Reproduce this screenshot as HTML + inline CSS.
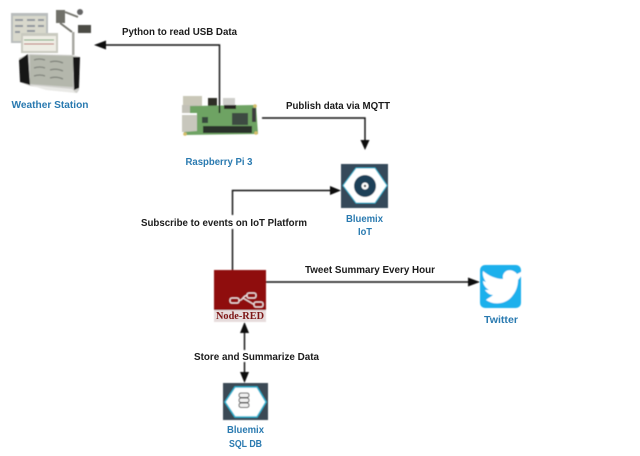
<!DOCTYPE html>
<html><head><meta charset="utf-8"><style>
html,body{margin:0;padding:0;background:#fff;width:640px;height:456px;overflow:hidden}
svg{display:block}
text{font-family:"Liberation Sans",sans-serif;font-weight:bold;font-size:10.5px}
.k{fill:#1a1a1a}.b{fill:#2a7ab0;text-anchor:middle}
.l{stroke:#111;stroke-width:1.4;fill:none}
</style></head><body>
<svg width="640" height="456" viewBox="0 0 640 456" xmlns="http://www.w3.org/2000/svg">
<defs>
<filter id="s" x="-5%" y="-5%" width="110%" height="110%"><feGaussianBlur stdDeviation="0.45"/></filter>
<filter id="t" x="-5%" y="-5%" width="110%" height="110%"><feGaussianBlur stdDeviation="0.25"/></filter>
</defs>
<rect width="640" height="456" fill="#fff"/>
<g filter="url(#s)">
<!-- weather station -->
<rect x="11" y="13" width="37" height="30" fill="#b9bdbd"/>
<rect x="13" y="16" width="33" height="25" fill="#d8d8cc"/>
<path d="M15 20h8M27 20h8M38 20h6M15 26h8M27 26h8M38 26h6M15 32h5M27 31h8" stroke="#8f959d" stroke-width="2"/>
<rect x="21" y="33" width="37" height="20" fill="#c9cac0"/>
<rect x="23" y="36" width="33" height="15" fill="#eeede4"/>
<path d="M24 40h30" stroke="#6da36d" stroke-width="1"/><path d="M24 44h30" stroke="#b96a6a" stroke-width="1"/>
<rect x="72" y="32" width="2.500" height="23" fill="#a9a9a3"/>
<rect x="56" y="10" width="9" height="13" fill="#6f6f69"/>
<path d="M65 12 L78 17 M60 23 L72 32" stroke="#77776f" stroke-width="2"/>
<circle cx="80" cy="12" r="3" fill="#666"/>
<rect x="78" y="25" width="13" height="8" fill="#4b4b45"/>
<path d="M19 58 L30 54 L72 55 L80 57 L79 90 L77 93 L30 86 L20 82 Z" fill="#cfcfcb"/>
<path d="M19 60 L28 54 L30 85 L20 82 Z" fill="#161616"/>
<path d="M73 57 L80 57 L79 88 L74 90 Z" fill="#161616"/>
<path d="M30 55 L73 56 L73 87 L30 84 Z" fill="#b4b7ac"/>
<path d="M34 60q5-2 11 0M50 62q6-2 13 1M34 68q6-2 11 0M50 70q6-2 13 1M34 76q6-2 11 0M50 78q6-2 13 1" fill="none" stroke="#81847d" stroke-width="1.300"/>
<path d="M30 85 L72 89 L76 93 L46 90 Z" fill="#e9e9e6"/>
<!-- raspberry pi -->
<rect x="183" y="96" width="19" height="10" fill="#c9c7b8"/>
<rect x="182" y="105" width="15" height="8" fill="#c2c1b7"/>
<rect x="182" y="115" width="15" height="17" fill="#c8c7bd"/>
<rect x="223" y="98" width="12" height="7" fill="#cfcfcb"/>
<rect x="208" y="98" width="9" height="9" fill="#2e2e28"/>
<path d="M190 106 L256 105 L258 134 L184 135 L184 132 L197 131 L197 113 L190 113 Z" fill="#6ea364"/>
<rect x="232" y="113" width="16" height="12" fill="#3d4c42"/>
<rect x="224" y="105" width="12" height="4" fill="#262622"/>
<rect x="202" y="117" width="6" height="6" fill="#39493d"/>
<rect x="203" y="126" width="49" height="7" fill="#2a302a"/>
<rect x="252" y="108" width="4" height="14" fill="#3d3d3d"/>
<circle cx="185" cy="134" r="1.800" fill="#d4bd6a"/><circle cx="256" cy="133" r="1.800" fill="#d4bd6a"/><circle cx="255" cy="106" r="1.800" fill="#d4bd6a"/>
<!-- iot -->
<rect x="341" y="164" width="47" height="44" fill="#34495a"/>
<path d="M343 185.500 L356 168 L375 168 L387 185.500 L375 203 L356 203 Z" fill="#fff" stroke="#25b4d2" stroke-width="1"/>
<circle cx="365" cy="186" r="11" fill="#1f4058"/>
<circle cx="365" cy="186" r="3.500" fill="#fff"/><circle cx="365" cy="186" r="1.200" fill="#333"/>
<!-- node red -->
<rect x="214" y="270" width="52" height="52" fill="#e6dcdc"/>
<rect x="214" y="270" width="52" height="40" fill="#8f0d0d"/>
<g fill="none" stroke="#f2e4e4" stroke-width="1.200">
<rect x="230" y="298" width="9" height="5" rx="2"/><rect x="247" y="293" width="9" height="5" rx="2"/><rect x="254" y="302" width="9" height="5" rx="2"/>
<path d="M239 300.500 C243 300.500 243 295.500 247 295.500 M243 298 L254 304.500"/>
</g>
<!-- sql db -->
<rect x="223" y="383" width="45" height="37" fill="#3a4854"/>
<path d="M225 402 L235 387 L257 387 L266 402 L257 417 L235 417 Z" fill="#fff" stroke="#25b4d2" stroke-width="1.500"/>
<g fill="#f0f0f0" stroke="#444" stroke-width="1"><rect x="239" y="393" width="10" height="4.500" rx="2"/><rect x="239" y="398" width="10" height="4.500" rx="2"/><rect x="239" y="403" width="10" height="4.500" rx="2"/></g>
<!-- twitter -->
<rect x="480" y="265" width="41" height="43" rx="5" fill="#1eb0ec"/>
<path d="M521 272 L517 274 C514 270 508 269 505 272 C502 275 503 278 503 279 C496 279 489 276 483 271 C482 275 484 279 486 282 L483 281 C483 285 486 288 489 290 L485 290 C487 293 490 295 493 295 C491 297 488 298 486 300 C495 306 507 304 513 295 C517 290 518 284 518 280 L522 275 Z" fill="#fff"/>
<!-- connectors -->
<path class="l" d="M219.500 113 V45 H104"/><path d="M94 45 L106 40.500 V49.500 Z" fill="#111"/>
<path class="l" d="M262 118 H365 V142"/><path d="M365 150 L360.500 140 H369.500 Z" fill="#111"/>
<path class="l" d="M232.500 270 V229 M232.500 215 V190.500 H332"/><path d="M341 190.500 L330 186 V195 Z" fill="#111"/>
<path class="l" d="M266 282 H470"/><path d="M480 282 L468 277.500 V286.500 Z" fill="#111"/>
<path class="l" d="M244.500 332 V350 M244.500 362 V374"/><path d="M244.500 322 L240 333 H249 Z" fill="#111"/><path d="M244.500 383 L240 372 H249 Z" fill="#111"/>
</g>
<g filter="url(#t)">
<text class="k" x="122" y="35" textLength="115" lengthAdjust="spacingAndGlyphs">Python to read USB Data</text>
<text class="k" x="286" y="109" textLength="104" lengthAdjust="spacingAndGlyphs">Publish data via MQTT</text>
<text class="k" x="141" y="226" textLength="166" lengthAdjust="spacingAndGlyphs">Subscribe to events on IoT Platform</text>
<text class="k" x="305" y="273" textLength="130" lengthAdjust="spacingAndGlyphs">Tweet Summary Every Hour</text>
<text class="k" x="194" y="360" textLength="125" lengthAdjust="spacingAndGlyphs">Store and Summarize Data</text>
<text class="b" x="50" y="108" textLength="77" lengthAdjust="spacingAndGlyphs">Weather Station</text>
<text class="b" x="219" y="165" textLength="67" lengthAdjust="spacingAndGlyphs">Raspberry Pi 3</text>
<text class="b" x="364.500" y="222" textLength="37" lengthAdjust="spacingAndGlyphs">Bluemix</text>
<text class="b" x="365" y="235" textLength="14" lengthAdjust="spacingAndGlyphs">IoT</text>
<text class="b" x="501" y="323" textLength="34" lengthAdjust="spacingAndGlyphs">Twitter</text>
<text class="b" x="245.500" y="433" textLength="37" lengthAdjust="spacingAndGlyphs">Bluemix</text>
<text class="b" x="245.500" y="447" textLength="33" lengthAdjust="spacingAndGlyphs">SQL DB</text>
<text x="240" y="319" text-anchor="middle" textLength="48" lengthAdjust="spacingAndGlyphs" style="font-family:'Liberation Serif',serif;font-size:10.500px;fill:#7d1414">Node-RED</text>
</g>
</svg>
</body></html>
